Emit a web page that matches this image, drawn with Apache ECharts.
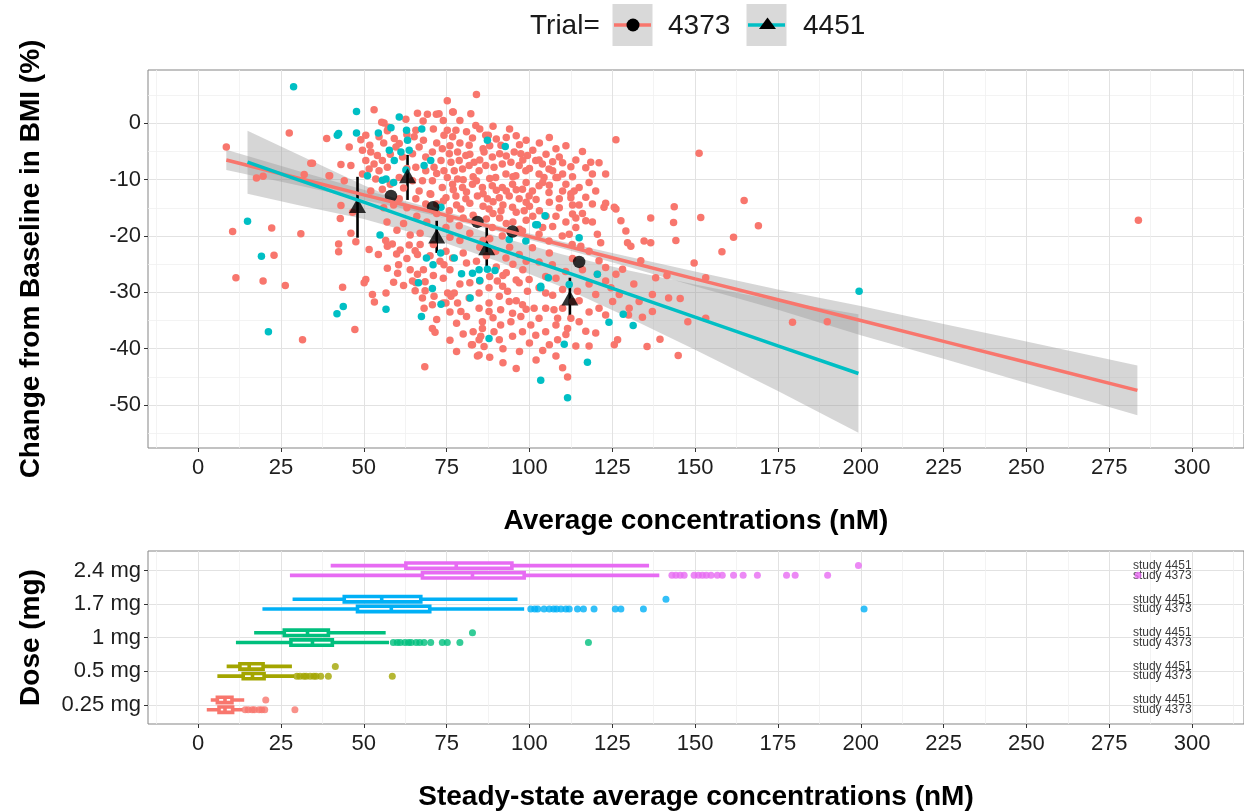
<!DOCTYPE html>
<html><head><meta charset="utf-8">
<script src="https://cdn.jsdelivr.net/npm/echarts@6/dist/echarts.min.js"></script>
<style>html,body{margin:0;padding:0;background:#fff}#c{width:1244px;height:812px}</style>
</head><body><div id="c"></div>
<script>
// ---------- tick values ----------
const xTicks = [0,25,50,75,100,125,150,175,200,225,250,275,300];
const xMinor = [-12.5,12.5,37.5,62.5,87.5,112.5,137.5,162.5,187.5,212.5,237.5,262.5,287.5,312.5];
const yTicks = [-50,-40,-30,-20,-10,0];
const yMinor = [-55,-45,-35,-25,-15,-5,5];
const doseTicks = [1,2,3,4,5];
const doses = ['0.25 mg','0.5 mg','1 mg','1.7 mg','2.4 mg'];
const doseColors = ['#F8766D','#A3A500','#00BF7D','#00B0F6','#E76BF3'];
const trials = ['4373','4451'];
const studyLabels = ['study 4451','study 4373'];

// ---------- top panel: individual points ----------
const pts4373 = [
[8.5,-4.2],[10.4,-19.2],[11.4,-27.4],[22.2,-18.6],[22.9,-23.4],[19.6,-28.0],[26.3,-28.8],[27.5,-1.7],[31.0,-19.6],[31.5,-38.4],[34.0,-7.1],[32.0,-9.1],[17.6,-9.7],[19.6,-9.4],[38.8,-2.7],[39.7,-9.3],[42.4,-21.4],[42.4,-22.8],[42.9,-16.9],[46.1,-19.5],[47.6,-21.0],[47.3,-36.6],[43.6,-29.1],[43.1,-7.3],[44.1,-10.2],[50.6,-27.7],[51.6,-22.4],[52.6,-30.4],[53.2,-31.7],[56.7,-30.1],[57.1,-25.7],[54.4,-23.3],[60.2,-26.6],[60.5,-25.1],[58.6,-21.4],[53.1,2.4],[55.4,0.2],[54.6,-2.4],[57.1,-1.3],[66.2,1.8],[67.9,0.4],[68.4,-43.2],[70.7,-36.4],[71.5,-37.1],[68.5,-29.7],[65.5,-29.7],[64.7,-28.0],[76.8,2.0],[75.2,4.0],[84.0,5.1],[82.3,1.7],[84.3,-41.3],[82.5,-39.3],[84.8,-38.4],[74.0,-31.9],[76.3,-30.7],
[56.1,0.05],[57.4,-0.7],[62.7,0.7],[69.2,1.6],[71.9,1.6],[50.6,-2.1],[49.1,-2.9],[51.8,-3.9],[59.2,-2.7],[60.7,-3.6],[65.7,-1.25],[65.2,-2.4],
[49.6,-4.8],[52.1,-5.1],[54.1,-5.7],[50.6,-6.6],[53.1,-7.2],[55.6,-6.6],[51.6,-8.1],[54.6,-8.4],[57.1,-7.8],[49.6,-9.0],[53.6,-9.9],[46.1,-7.5],[45.6,-4.2],
[59.7,-4.2],[61.7,-6.0],[64.7,-5.4],[66.7,-4.2],[68.7,-6.0],[70.7,-5.1],[65.7,-7.8],[68.7,-8.4],[71.2,-7.8],[60.7,-9.6],[64.7,-10.2],[67.7,-10.2],[70.7,-10.2],[66.7,-12.0],[70.2,-12.6],[65.7,-13.4],[68.7,-14.3],
[34.5,-7.1],[39.5,-9.3],[43.1,-14.6],[46.6,-15.8],[52.1,-12.0],[55.6,-11.7],[60.7,-13.4],
[77.0,2.0],[72.7,1.7],[83.8,-0.4],[75.2,-1.25],[77.8,-1.25],[74.2,-2.1],[76.8,-2.4],[82.8,-2.6],[87.6,-2.1],[81.8,-3.9],[91.4,-3.9],[86.3,-5.1],[88.8,-6.0],[91.0,-5.4],[95.4,-5.1],[97.4,-5.4],[99.4,-5.7],
[73.7,-4.5],[75.8,-5.4],[78.3,-5.1],[73.3,-6.6],[76.3,-6.9],[78.8,-6.6],[80.8,-5.7],[74.2,-8.4],[77.3,-8.4],[79.8,-8.1],[75.2,-9.6],[78.3,-9.9],[81.8,-7.5],[83.3,-6.9],[84.8,-8.4],
[86.8,-7.5],[89.3,-7.8],[91.8,-7.2],[94.4,-6.9],[96.9,-7.5],[89.8,-9.6],[92.9,-9.0],[95.9,-9.3],[98.9,-8.4],[101.9,-6.6],[103.9,-7.2],[105.9,-8.1],[102.9,-9.0],[108.0,-9.6],
[111.0,-10.8],[113.5,-12.0],[112.5,-13.2],[109.0,-13.4],[105.9,-12.3],
[73.7,-11.4],[76.8,-10.8],[79.8,-11.4],[82.8,-10.8],[85.8,-11.4],[88.8,-11.1],[91.8,-11.4],[94.9,-10.8],[97.9,-11.7],[100.9,-12.0],[102.9,-11.1],
[74.8,-13.2],[77.8,-12.9],[80.8,-13.4],[84.3,-12.9],[87.3,-13.4],[90.9,-13.2],[93.9,-12.9],[96.9,-13.4],[99.9,-12.9],
[75.8,-15.5],[79.3,-15.2],[87.8,-15.2],[91.4,-15.5],[94.9,-14.9],[98.4,-15.5],
[74.8,-18.5],[78.8,-18.2],[88.8,-18.5],[91.8,-20.0],[97.9,-19.1],[102.9,-19.7],[105.9,-20.9],[109.9,-20.0],[112.9,-21.5],[100.9,-22.1],[96.9,-23.3],[92.9,-23.9],[89.8,-22.7],[102.9,-24.6],[106.9,-25.1],[110.9,-26.3],[104.9,-27.2],
[74.8,-22.7],[76.8,-23.9],[74.2,-25.1],[75.3,-30.1],[77.3,-30.1],[74.8,-31.9],[78.3,-31.9],[79.3,-33.4],[81.8,-31.0],[84.8,-30.1],[87.8,-29.2],[90.3,-28.0],[91.9,-28.9],[93.4,-29.8],[90.9,-30.7],[93.9,-31.6],[87.8,-31.9],[84.8,-32.8],[87.8,-33.4],[91.3,-33.1],[94.9,-33.7],[97.4,-34.3],[94.4,-35.2],[91.3,-35.8],[89.3,-37.0],[85.8,-35.2],[85.8,-36.4],[85.3,-37.8],[82.8,-39.3],[86.3,-39.6],[90.9,-38.4],[94.9,-37.8],[97.9,-37.0],[100.4,-35.8],[102.9,-34.6],[104.9,-32.8],[107.4,-33.1],[108.5,-34.6],[101.9,-37.6],[104.9,-37.0],[108.5,-38.4],[111.5,-36.4],[112.5,-34.6],[99.4,-29.8],[96.9,-28.3],[99.9,-27.7],[102.9,-29.2],[104.9,-30.1],[97.9,-32.2],[101.4,-32.8],[84.8,-41.1],
[57.1,-21.8],[56.6,-20.8],[59.9,-23.2],[66.2,-23.3],[65.5,-22.6],[63.7,-21.6],[50.1,-28.3],[66.2,-26.8],[65.7,-28.3],[68.5,-28.1],[67.7,-31.0],[68.2,-32.8],[71.2,-30.7],[70.7,-32.2],
[86.8,-2.1],[126.1,-2.9],[151.2,-5.3],[123.0,-14.2],[126.1,-15.2],[127.6,-17.3],[143.7,-14.8],[143.5,-17.6],[144.2,-20.8],[136.6,-16.8],[151.7,-16.7],[164.8,-13.7],[169.1,-18.2],[161.6,-20.2],[158.1,-22.8],[149.7,-24.8],[145.5,-31.1],[139.4,-38.3],[144.9,-41.2],[153.2,-34.6],[134.1,-34.4],[129.9,-34.0],[138.1,-27.4],[137.1,-30.4],[133.6,-24.4],[129.6,-21.2],[130.6,-21.8],[134.6,-20.9],[136.6,-21.2],[129.1,-19.1],[120.5,-19.7],[121.5,-21.2],[118.0,-22.7],[112.0,-19.7],[114.0,-18.5],[115.5,-21.8],[117.0,-17.3],[113.0,-16.1],[112.5,-7.7],[117.0,-7.9],[118.5,-6.9],[102.9,-6.5],[107.0,-8.4],[104.4,-9.6],[108.5,-9.6],[110.0,-12.0],[112.5,-12.5],[115.0,-11.4],[117.0,-13.1],[119.0,-14.3],[122.5,-14.9],[125.6,-14.9],
[121.0,-24.4],[123.0,-25.6],[126.1,-26.8],[128.1,-25.9],[120.5,-26.8],[124.6,-29.2],[120.0,-30.4],[125.1,-31.6],[130.1,-32.8],[133.1,-31.6],[137.1,-33.4],[127.1,-30.4],[123.0,-28.0],
[114.5,-29.8],[113.0,-31.6],[110.0,-32.8],[108.0,-35.8],[115.0,-35.2],[111.0,-37.5],[117.0,-36.9],[120.0,-37.2],[123.0,-34.0],[110.0,-43.4],[111.5,-45.0],[125.6,-39.3],[126.6,-38.4],[179.4,-35.3],[189.9,-35.2],[153.2,-27.4],[283.8,-17.2],
[141.5,-27.0],[147.8,-35.2],[135.5,-39.6],[131.5,-28.5],[142.0,-31.0],
[79,-3.5],[86,-4.5],[93,-2.5],[97,-3.8],[101,-4.8],[105,-5.5],[108,-4.5],[110,-7],[113,-9.5],[115,-14.5],[118,-10.5],[120,-12],[123,-9],[106,-11],[99,-10.5],[95,-9.5],[88,-9.8],[83,-9.5],[80,-10],[72,-8.9],[70,-12.5],[74,-13.8],[78,-14.5],[82,-14.2],[86,-14.7],[89,-13.9],[92,-14.5],[96,-15.8],[100,-14.7],[103,-15.5],[106,-14],[108,-16.5],[111,-17.5],[114,-16.8],[99,-17.2],[95,-17.5],[91,-16.8],[87,-17],[80,-16.8],[76,-17],[72,-16],[69,-17.5],[66,-16.5],[63,-15],[62,-17.8],[67,-19.5],[71,-21.5],[64,-19.8],[60,-19],[57,-17.5],[56,-15],[59,-14.5],[73,-24.5],[76,-26],[79,-28.5],[81,-24.8],[84,-24.5],[87,-23.5],[86,-20.8],[90,-25.5],[93,-26.5],[95,-25],[98,-26],[96,-27.8],[85,-28],[82,-28.3],[74,-27.5],[71,-27],[68,-26],[63,-24],[61,-22.5],[72,-34.8],[78,-35.5],[80,-37.4],[76,-38.5],[92,-40],[88,-41.5],[97,-40.5],[100,-39],[104,-40.3],[108,-41.3],[114,-39.5],[118,-39.5],
[63,-2],[68,-3],[71,-1],[74,0.5],[79,0.5],[81,-1.5],[85,-1],[89,-0.5],[90,-2.8],[94,-1],[96,-2.2],[99,-3],[103,-3.5],[106,-2.5],[109,-6],[111,-4],[114,-6.5],[116,-5],[119,-9],[121,-7],[72,-3.5],[76,-4],[82,-5.5],[85,-6.5],[88,-4],[93,-5.8],[98,-6.5],[100,-8],[104,-10.5],[107,-6.8],[110,-9],[62,-11.5],[63,-8],[58,-10.8],[58,-5.5],[56,-3.5],[72,-14.3],[77,-11.8],[81,-12.2],[84,-10.2],[86,-12.5],[90,-11.9],[93,-12],[96,-11.8],[99,-14],[102,-13.5],[105,-16.5],[109,-15],[113,-14.5],[116,-16],[119,-17.5],[83,-16.3],[89,-16],[93,-17.8],[97,-18.8],[101,-16.5],[104,-18.5],[107,-18.3],[76,-20.2],[79,-20.8],[82,-19.5],[85,-22],[88,-20.5],[94,-22],[99,-24.5],[92,-27],[88,-27.2],[80,-23],[70,-23.5],[67,-21.5],[64,-26],[62,-28.8],[59,-28.2],[106,-23],[108,-27.5],[113,-24],[116,-26],[118,-28.5],[115,-31.5],[118,-33.5],[121,-32.8],[107,-30.5],[110,-29.5],[96,-31.5],[99,-33],[89,-34.5],[81,-34.3],[76,-33.5],[83,-37],[78,-40.5],[92,-42.5],[96,-43.5],[102,-42],[106,-39.3]
];
const pts4451 = [
[28.8,6.5],[14.9,-17.4],[19.1,-23.6],[21.2,-37.0],[42.0,-2.1],[47.8,2.1],[41.9,-33.8],[43.8,-32.5],[56.7,-33.0],[67.4,-34.3],[54.9,-19.8],[70.7,-29.3],[73.3,-32.1],[87.8,-38.2],[82.1,-31.0],[66.5,-28.3],[68.9,-23.9],[70.9,-25.1],[82.8,-26.6],[85.0,-27.9],[87.3,-25.9],[89.6,-26.1],[87.3,-3.0],[79.5,-26.7],[59.0,-10.5],[51.1,-9.3],
[42.4,-1.8],[47.8,-1.7],[54.4,-1.7],[58.2,-0.8],[60.7,1.1],[62.9,-1.25],[63.2,-3.0],[67.5,-1.0],[57.7,-4.8],[61.2,-5.1],[59.2,-6.6],[63.7,-4.8],[68.2,-7.5],[70.2,-6.6],[56.7,-9.9],[55.6,-10.1],[62.7,-8.3],
[92.7,-4.1],[104.7,-16.4],[73.3,-14.9],[84.8,-26.0],[103.4,-28.9],[105.7,-27.4],[110.5,-39.2],[112.0,-28.6],[77.3,-23.9],[73.2,-23.0],[101.9,-18.0],[93.9,-20.6],[98.9,-20.9],
[199.5,-29.8],[103.4,-45.6],[111.5,-48.7],[117.5,-42.4],[124.0,-35.3],[128.3,-33.9],[131.3,-35.9],[115.0,-20.3],[120.5,-26.8],[103.4,-29.2],[102.4,-18.0]
];

// ---------- top panel: linear fits with confidence bands ----------
const fitX4373  = [8.5,30,50,70,90,110,130,150,175,200,225,250,283.5];
const fitY4373  = [-6.5,-9.7,-12.7,-15.6,-18.6,-21.6,-24.6,-27.6,-31.3,-35.0,-38.7,-42.4,-47.4];
const fitLo4373 = [-8.3,-11.0,-13.6,-16.2,-19.1,-22.2,-25.5,-28.9,-33.1,-37.6,-41.8,-46.1,-51.8];
const fitHi4373 = [-4.7,-8.4,-11.8,-15.0,-18.1,-21.0,-23.7,-26.3,-29.5,-32.4,-35.6,-38.7,-43.0];
const fitX4451  = [14.9,30,50,70,90,110,130,150,175,199.3];
const fitY4451  = [-6.9,-10.0,-14.0,-18.1,-22.2,-26.2,-30.3,-34.4,-39.5,-44.4];
const fitLo4451 = [-12.5,-14.5,-17.0,-20.3,-24.4,-29.1,-34.5,-40.2,-47.5,-54.9];
const fitHi4451 = [-1.3,-5.5,-11.0,-15.9,-20.0,-23.3,-26.1,-28.6,-31.5,-33.9];

// ---------- top panel: group means ----------
const meanX4373 = [58.2,70.9,84.3,94.9,115.0];
const meanY4373 = [-12.9,-14.9,-17.5,-19.2,-24.6];
const meanX4451 = [48.1,63.2,72.0,87.1,112.2];
const meanY4451 = [-14.6,-9.3,-20.0,-22.1,-31.0];
const errLo4451 = [-20.3,-13.6,-23.0,-25.4,-34.9];
const errHi4451 = [-9.5,-5.6,-17.3,-18.5,-27.4];

// ---------- bottom panel: boxplots [lowWhisker, Q1, median, Q3, highWhisker] per dose ----------
const box4451 = [[3.8,5.8,8.1,10.2,13.9],[8.6,12.6,15.4,19.6,28.3],[16.9,26.0,33.0,39.3,56.6],[28.5,44.1,55.4,67.2,96.4],[40.0,62.7,77.9,94.7,136.1]];
const box4373 = [[2.6,6.3,8.1,10.4,13.4],[5.8,13.6,16.4,19.9,29.0],[11.4,28.0,34.5,40.5,57.6],[19.4,48.1,58.3,69.9,98.4],[27.7,67.7,82.8,98.4,139.2]];
const out4451 = [[20.4],[41.4],[82.8],[141.2],[199.3]];
const out4373 = [
 [14.2,15.1,16.3,17.0,18.4,19.2,20.1,29.2],
 [29.8,30.7,31.9,32.6,33.8,34.9,35.6,37.0,39.3,58.6],
 [58.9,60.1,61.0,62.4,63.5,64.3,65.8,66.9,68.2,70.2,73.7,75.2,79.0,117.8],
 [100.4,101.6,102.5,104.4,106.0,107.3,108.2,109.5,111.0,112.0,114.5,116.3,119.5,125.9,127.6,134.4,201.0],
 [143.0,144.2,145.5,146.7,149.7,151.0,152.2,153.4,154.8,156.7,158.2,161.6,164.5,168.8,177.6,180.2,190.0,283.7]
];
const STUDY_X = 291;

// ---------- layout ----------
const FONT = '"Liberation Sans", Arial, Helvetica, sans-serif';
const X_MIN = -15.14, X_MAX = 315.68;
const Y_MIN = -57.62, Y_MAX = 9.46;
const D_MIN = 0.43, D_MAX = 5.58;
const OFF = 0.145;
const HB = 0.08;
const C4373 = '#F8766D', C4451 = '#00BFC4';
const LBL = '#1e1e1e';

function majorX(gi, name){
  return {type:'value', gridIndex:gi, min:X_MIN, max:X_MAX, position:'bottom',
    name:name, nameLocation:'middle', nameGap:59,
    nameTextStyle:{fontSize:28, fontWeight:'bold', color:'#000', fontFamily:FONT},
    axisLine:{show:false, onZero:false},
    axisTick:{show:true, length:4, lineStyle:{color:'#333'}, customValues:xTicks},
    axisLabel:{customValues:xTicks, fontSize:22, color:LBL, margin:9, fontFamily:FONT},
    splitLine:{show:true, lineStyle:{color:'#e2e2e2', width:1}}};
}
function minorX(gi){
  return {type:'value', gridIndex:gi, min:X_MIN, max:X_MAX, position:'top',
    axisLine:{show:false, onZero:false}, axisTick:{show:false, customValues:xMinor},
    axisLabel:{show:false, customValues:xMinor},
    splitLine:{show:true, lineStyle:{color:'#f0f0f0', width:0.8}}};
}

function bandSeries(xs, lo, hi){
  return {type:'custom', xAxisIndex:0, yAxisIndex:0, silent:true,
    data: xs.map((x,i)=>[x, lo[i], hi[i]]), encode:{x:0, y:[1,2]},
    renderItem: function(params, api){
      if (params.dataIndex !== 0) return null;
      const pts = [];
      for (let i=0;i<xs.length;i++) pts.push(api.coord([xs[i], hi[i]]));
      for (let i=xs.length-1;i>=0;i--) pts.push(api.coord([xs[i], lo[i]]));
      return {type:'polygon', shape:{points:pts}, style:{fill:'rgba(153,153,153,0.4)'}};
    }};
}

function boxSeries(boxes, off){
  return {type:'custom', xAxisIndex:2, yAxisIndex:2, silent:true,
    data: boxes.map((b,i)=>b.concat([doseTicks[i]])), encode:{x:[0,1,2,3,4], y:5},
    renderItem: function(params, api){
      const i = params.dataIndex, b = boxes[i], yc = doseTicks[i] + off, col = doseColors[i];
      const lo = api.coord([b[0], yc]), hi = api.coord([b[4], yc]);
      const tl = api.coord([b[1], yc + HB]), br = api.coord([b[3], yc - HB]);
      const mt = api.coord([b[2], yc + HB]), mb = api.coord([b[2], yc - HB]);
      return {type:'group', children:[
        {type:'line', shape:{x1:lo[0], y1:lo[1], x2:hi[0], y2:hi[1]}, style:{stroke:col, lineWidth:3.6}},
        {type:'rect', shape:{x:tl[0], y:tl[1], width:br[0]-tl[0], height:br[1]-tl[1]}, style:{fill:'#fff', stroke:col, lineWidth:3.6}},
        {type:'line', shape:{x1:mt[0], y1:mt[1], x2:mb[0], y2:mb[1]}, style:{stroke:col, lineWidth:3.6}}
      ]};
    }};
}

function outlierData(outs, off){
  const d = [];
  outs.forEach((arr,i)=>arr.forEach(x=>d.push({value:[x, doseTicks[i]+off], itemStyle:{color:doseColors[i]}})));
  return d;
}

const option = {
  animation:false,
  backgroundColor:'#fff',
  textStyle:{fontFamily:FONT},
  grid:[
    {left:148, top:70, width:1099, height:378, show:true, borderColor:'#858585', borderWidth:1, backgroundColor:'transparent'},
    {left:148, top:551, width:1099, height:174, show:true, borderColor:'#858585', borderWidth:1, backgroundColor:'transparent'}
  ],
  xAxis:[ majorX(0,'Average concentrations (nM)'), minorX(0),
          majorX(1,'Steady-state average concentrations (nM)'), minorX(1) ],
  yAxis:[
    {type:'value', gridIndex:0, min:Y_MIN, max:Y_MAX, position:'left',
     name:'Change from Baseline in BMI (%)', nameLocation:'middle', nameGap:103, nameRotate:90,
     nameTextStyle:{fontSize:28, fontWeight:'bold', color:'#000', fontFamily:FONT},
     axisLine:{show:false, onZero:false},
     axisTick:{show:true, length:4, lineStyle:{color:'#333'}, customValues:yTicks},
     axisLabel:{customValues:yTicks, fontSize:22, color:LBL, margin:7, fontFamily:FONT},
     splitLine:{show:true, lineStyle:{color:'#e2e2e2', width:1}}},
    {type:'value', gridIndex:0, min:Y_MIN, max:Y_MAX, position:'right',
     axisLine:{show:false, onZero:false}, axisTick:{show:false, customValues:yMinor},
     axisLabel:{show:false, customValues:yMinor},
     splitLine:{show:true, lineStyle:{color:'#f0f0f0', width:0.8}}},
    {type:'value', gridIndex:1, min:D_MIN, max:D_MAX, position:'left',
     name:'Dose (mg)', nameLocation:'middle', nameGap:103, nameRotate:90,
     nameTextStyle:{fontSize:28, fontWeight:'bold', color:'#000', fontFamily:FONT},
     axisLine:{show:false, onZero:false},
     axisTick:{show:true, length:4, lineStyle:{color:'#333'}, customValues:doseTicks},
     axisLabel:{customValues:doseTicks, fontSize:22, color:LBL, margin:7, fontFamily:FONT,
                formatter:v=>doses[Math.round(v)-1]},
     splitLine:{show:true, lineStyle:{color:'#e2e2e2', width:1}}}
  ],
  series:[
    {type:'scatter', name:trials[0], xAxisIndex:0, yAxisIndex:0, data:pts4373, symbolSize:7.5, itemStyle:{color:C4373, opacity:1}, silent:true},
    {type:'scatter', name:trials[1], xAxisIndex:0, yAxisIndex:0, data:pts4451, symbolSize:7.5, itemStyle:{color:C4451, opacity:1}, silent:true},
    bandSeries(fitX4373, fitLo4373, fitHi4373),
    bandSeries(fitX4451, fitLo4451, fitHi4451),
    {type:'line', xAxisIndex:0, yAxisIndex:0, data:fitX4373.map((x,i)=>[x,fitY4373[i]]), showSymbol:false, lineStyle:{color:C4373, width:3.5}, silent:true},
    {type:'line', xAxisIndex:0, yAxisIndex:0, data:fitX4451.map((x,i)=>[x,fitY4451[i]]), showSymbol:false, lineStyle:{color:C4451, width:3.5}, silent:true},
    {type:'custom', xAxisIndex:0, yAxisIndex:0, silent:true,
     data:meanX4451.map((x,i)=>[x, errLo4451[i], errHi4451[i]]), encode:{x:0, y:[1,2]},
     renderItem:function(params, api){
       const a = api.coord([api.value(0), api.value(1)]), b = api.coord([api.value(0), api.value(2)]);
       return {type:'line', shape:{x1:a[0], y1:a[1], x2:b[0], y2:b[1]}, style:{stroke:'#000', lineWidth:2.6}};
     }},
    {type:'scatter', xAxisIndex:0, yAxisIndex:0, data:meanX4373.map((x,i)=>[x,meanY4373[i]]), symbol:'circle', symbolSize:12.5, itemStyle:{color:'#000'}, silent:true},
    {type:'scatter', xAxisIndex:0, yAxisIndex:0, data:meanX4451.map((x,i)=>[x,meanY4451[i]]), symbol:'triangle', symbolSize:[17,15], itemStyle:{color:'#000'}, silent:true},
    boxSeries(box4451, OFF),
    boxSeries(box4373, -OFF),
    {type:'scatter', xAxisIndex:2, yAxisIndex:2, data:outlierData(out4451, OFF), symbolSize:7, silent:true},
    {type:'scatter', xAxisIndex:2, yAxisIndex:2, data:outlierData(out4373, -OFF), symbolSize:7, silent:true},
    {type:'custom', xAxisIndex:2, yAxisIndex:2, silent:true,
     data:doseTicks.map(t=>[STUDY_X, t]), encode:{x:0, y:1},
     renderItem:function(params, api){
       const t = doseTicks[params.dataIndex];
       const pu = api.coord([STUDY_X, t + OFF]), pl = api.coord([STUDY_X, t - OFF]);
       const st = {align:'center', verticalAlign:'middle', fontSize:12, fontFamily:FONT, fill:'#3a3a3a'};
       return {type:'group', children:[
         {type:'text', style:Object.assign({text:studyLabels[0], x:pu[0], y:pu[1]}, st)},
         {type:'text', style:Object.assign({text:studyLabels[1], x:pl[0], y:pl[1]}, st)}
       ]};
     }}
  ],
  graphic:[
    {type:'text', style:{text:'Trial=', x:530, y:26, verticalAlign:'middle', fontSize:28, fontFamily:FONT, fill:'#1a1a1a'}},
    {type:'rect', shape:{x:612.5, y:4, width:40, height:42}, style:{fill:'#d9d9d9'}},
    {type:'line', shape:{x1:614, y1:25, x2:651, y2:25}, style:{stroke:C4373, lineWidth:3.5}},
    {type:'circle', shape:{cx:633, cy:25, r:6.5}, style:{fill:'#000'}},
    {type:'text', style:{text:trials[0], x:668, y:26, verticalAlign:'middle', fontSize:28, fontFamily:FONT, fill:'#1a1a1a'}},
    {type:'rect', shape:{x:746.5, y:4, width:40, height:42}, style:{fill:'#d9d9d9'}},
    {type:'line', shape:{x1:748, y1:25, x2:785, y2:25}, style:{stroke:C4451, lineWidth:3.5}},
    {type:'polygon', shape:{points:[[767.5,17.5],[759,29],[776,29]]}, style:{fill:'#000'}},
    {type:'text', style:{text:trials[1], x:803, y:26, verticalAlign:'middle', fontSize:28, fontFamily:FONT, fill:'#1a1a1a'}}
  ]
};
const chart = echarts.init(document.getElementById('c'));
chart.setOption(option);
</script></body></html>
